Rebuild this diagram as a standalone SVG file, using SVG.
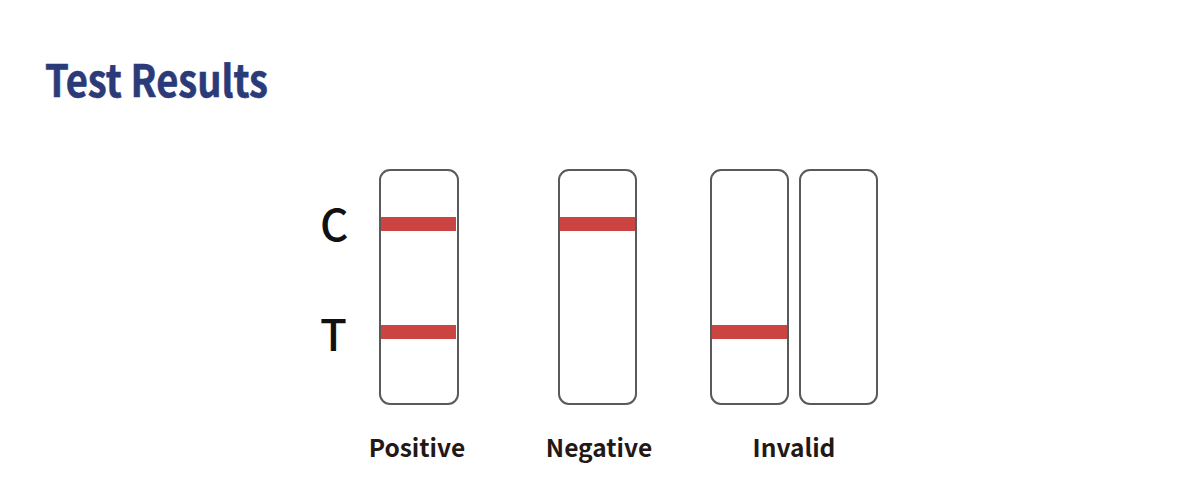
<svg xmlns="http://www.w3.org/2000/svg" width="1200" height="500" viewBox="0 0 1200 500">
<style>
.strip{fill:#fff;stroke:#5a5a5a;stroke-width:2}
.band{fill:#cc4442}
.lbl{font-family:"Noto Sans CJK SC","Noto Sans",sans-serif;font-weight:bold;font-size:24.5px;fill:#231815;text-anchor:middle}
.ct{font-family:"Noto Sans CJK SC","Noto Sans",sans-serif;font-weight:500;font-size:44px;fill:#111}
</style>
<rect width="1200" height="500" fill="#fff"/>
<text x="45" y="97" font-family="'Noto Sans CJK SC','Noto Sans',sans-serif" font-weight="bold" font-size="44" fill="#2b3a78" stroke="#2b3a78" stroke-width="0.6" textLength="223" lengthAdjust="spacingAndGlyphs">Test Results</text>
<g id="labels-ct">
<text class="ct" x="320" y="241">C</text>
<text class="ct" x="320" y="351">T</text>
</g>
<g id="positive">
<rect class="strip" x="380" y="170" width="78" height="234" rx="10"/>
<rect class="band" x="381" y="217" width="75" height="14"/>
<rect class="band" x="381" y="325" width="75" height="14"/>
<text class="lbl" x="417" y="457">Positive</text>
</g>
<g id="negative">
<rect class="strip" x="559" y="170" width="77" height="234" rx="10"/>
<rect class="band" x="560" y="217" width="75" height="14"/>
<text class="lbl" x="599" y="457">Negative</text>
</g>
<g id="invalid">
<rect class="strip" x="711" y="170" width="77" height="234" rx="10"/>
<rect class="band" x="712" y="325" width="75" height="14"/>
<rect class="strip" x="800" y="170" width="77" height="234" rx="10"/>
<text class="lbl" x="794" y="457">Invalid</text>
</g>
<g id="connectors"/>
</svg>
